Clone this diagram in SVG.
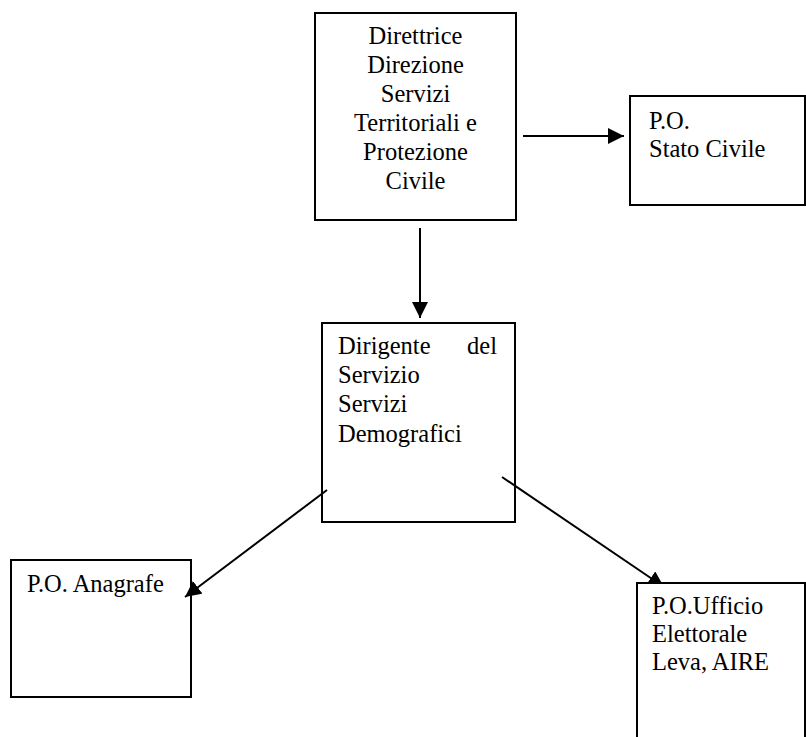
<svg xmlns="http://www.w3.org/2000/svg" width="806" height="737" viewBox="0 0 806 737">
<style>
  .box { fill: #ffffff; stroke: #000000; stroke-width: 2; }
  .boxn { fill: none; stroke: #000000; stroke-width: 2; }
  .t { font-family: "Liberation Serif", "Times New Roman", serif; font-size: 24.5px; fill: #000000; }
  .c { text-anchor: middle; }
  .edge { stroke: #000000; stroke-width: 2; fill: none; marker-end: url(#arr); }
</style>
<defs>
  <marker id="arr" markerUnits="userSpaceOnUse" markerWidth="18" markerHeight="18" refX="16" refY="8" orient="auto">
    <path d="M0,0 L16,8 L0,16 z" fill="#000000"/>
  </marker>
</defs>
<rect width="806" height="737" fill="#ffffff"/>
<g id="connectors">
  <line class="edge" x1="523" y1="136" x2="624" y2="136"/>
  <line class="edge" x1="420" y1="228" x2="420" y2="318"/>
  <line class="edge" x1="327" y1="490" x2="185" y2="597"/>
  <line class="edge" x1="502" y1="477" x2="664" y2="587"/>
</g>
<g id="direttrice">
  <rect class="box" x="315" y="13" width="201" height="207"/>
  <text class="t c" x="415.5" y="44">Direttrice</text>
  <text class="t c" x="415.5" y="73">Direzione</text>
  <text class="t c" x="415.5" y="102">Servizi</text>
  <text class="t c" x="415.5" y="131">Territoriali e</text>
  <text class="t c" x="415.5" y="160">Protezione</text>
  <text class="t c" x="415.5" y="189">Civile</text>
</g>
<g id="stato-civile">
  <rect class="box" x="630" y="96" width="175" height="109"/>
  <text class="t" x="649" y="129">P.O.</text>
  <text class="t" x="649" y="156.5">Stato Civile</text>
</g>
<g id="dirigente">
  <rect class="boxn" x="322" y="323" width="193" height="199"/>
  <text class="t" x="338" y="354">Dirigente</text>
  <text class="t" x="497" y="354" text-anchor="end">del</text>
  <text class="t" x="338" y="383">Servizio</text>
  <text class="t" x="338" y="412">Servizi</text>
  <text class="t" x="338" y="441.5">Demografici</text>
</g>
<g id="anagrafe">
  <rect class="boxn" x="11" y="560" width="180" height="137"/>
  <text class="t" x="27" y="592">P.O. Anagrafe</text>
</g>
<g id="ufficio-elettorale">
  <rect class="box" x="637" y="583" width="168" height="180"/>
  <text class="t" x="652" y="614">P.O.Ufficio</text>
  <text class="t" x="652" y="642">Elettorale</text>
  <text class="t" x="652" y="670">Leva, AIRE</text>
</g>
</svg>
